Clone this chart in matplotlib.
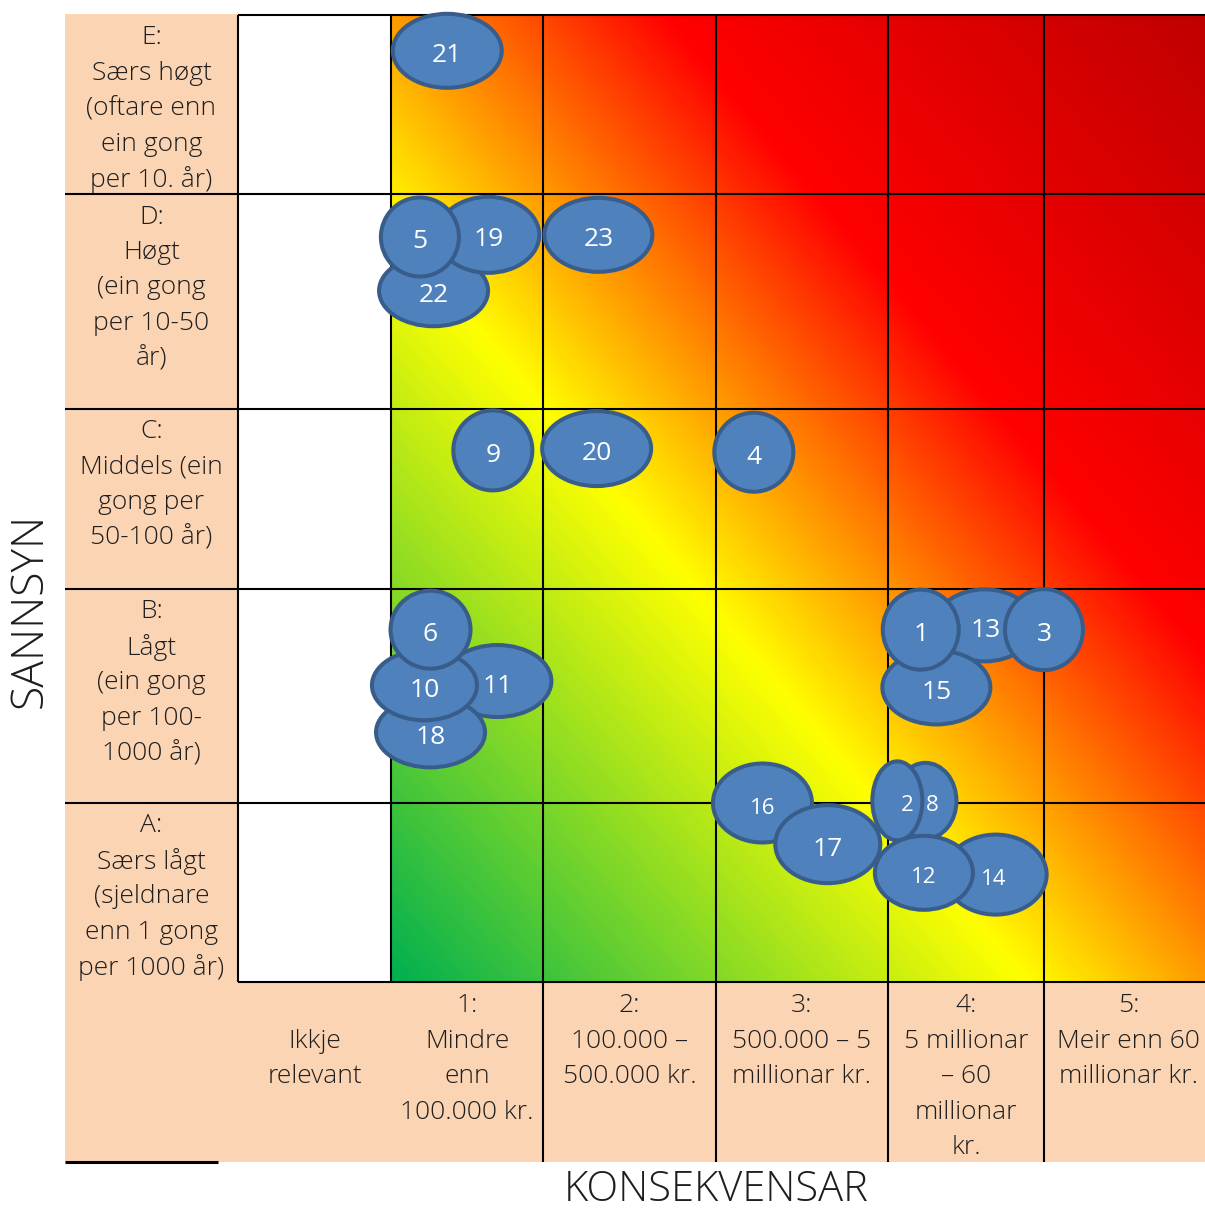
import matplotlib.pyplot as plt
import numpy as np
from matplotlib.patches import Ellipse, Rectangle
from matplotlib.colors import LinearSegmentedColormap

# --- data -------------------------------------------------------------
# probability classes, bottom (A) to top (E)
prob_labels = [
    "A:\nSærs lågt\n(sjeldnare\nenn 1 gong\nper 1000 år)",
    "B:\nLågt\n(ein gong\nper 100-\n1000 år)",
    "C:\nMiddels (ein\ngong per\n50-100 år)",
    "D:\nHøgt\n(ein gong\nper 10-50\når)",
    "E:\nSærs høgt\n(oftare enn\nein gong\nper 10. år)",
]
# consequence classes, left to right (0 = not relevant)
cons_labels = [
    "\nIkkje\nrelevant",
    "1:\nMindre\nenn\n100.000 kr.",
    "2:\n100.000 –\n500.000 kr.",
    "3:\n500.000 – 5\nmillionar kr.",
    "4:\n5 millionar\n– 60\nmillionar\nkr.",
    "5:\nMeir enn 60\nmillionar kr.",
]
x_title = "KONSEKVENSAR"
y_title = "SANNSYN"

# risk items, in drawing order; position in cell units
# (consequence class k spans k-0.5..k+0.5, probability A=1 .. E=5)
risk_ids  = [22, 19, 5, 23, 21, 9, 20, 4, 11, 18, 10, 6,
             13, 15, 3, 1, 16, 17, 8, 2, 14, 12]
risk_cons = [0.78, 1.14, 0.69, 1.82, 0.87, 1.17, 1.81, 2.72, 1.20, 0.76, 0.72, 0.76,
             4.12, 3.81, 4.50, 3.71, 2.77, 3.15, 3.74, 3.56, 4.19, 3.73]
risk_prob = [4.05, 4.31, 4.30, 4.31, 5.30, 3.27, 3.28, 3.26, 2.07, 1.83, 2.05, 2.31,
             2.33, 2.04, 2.31, 2.31, 1.50, 1.27, 1.51, 1.51, 1.10, 1.11]

# --- layout / style ---------------------------------------------------
W, H = 1205, 1210
col_edges = [238, 391, 543, 716, 888, 1044, 1205]   # px, left to right
row_edges = [982, 803, 589, 409, 194, 15]           # px, bottom to top
label_left = 65
label_bottom = 1162
beige = "#FBD4B4"
text_col = "#1e1e1e"
fill_col = "#4F81BD"
edge_col = "#385D8A"
font = ["Open Sans", "DejaVu Sans"]

bubble_size = {  # outer width, height in px
    22: (113, 75), 19: (106, 80), 5: (82, 83), 23: (112, 78), 21: (113, 78),
    9: (83, 84), 20: (113, 79), 4: (83, 83), 11: (112, 76), 18: (113, 74),
    10: (109, 74), 6: (84, 82), 13: (104, 76), 15: (112, 78), 3: (82, 85),
    1: (80, 84), 16: (103, 83), 17: (109, 82), 8: (66, 80), 2: (54, 83),
    14: (106, 84), 12: (102, 78),
}
label_dx = {2: 10, 8: 7, 14: -2, 13: 1}
small_ids = {2, 8, 12, 14, 16}


def cx(c):
    return np.interp(c, np.arange(-0.5, 6), col_edges)


def cy(p):
    return np.interp(p, np.arange(0.5, 6), row_edges)


fig = plt.figure(figsize=(W / 100, H / 100), dpi=100)
ax = fig.add_axes([0, 0, 1, 1])
ax.set_xlim(0, W)
ax.set_ylim(H, 0)
ax.axis("off")

# beige label areas
ax.add_patch(Rectangle((label_left, 14), col_edges[0] - label_left, row_edges[0] - 14,
                       fc=beige, ec="none", zorder=0))
ax.add_patch(Rectangle((label_left, row_edges[0]), W - label_left, label_bottom - row_edges[0],
                       fc=beige, ec="none", zorder=0))

# diagonal gradient over the risk area
cmap = LinearSegmentedColormap.from_list(
    "risk", [(0.0, "#00B050"), (0.39, "#FFFF00"), (0.67, "#FF0000"), (1.0, "#C00000")])
u = np.linspace(0, 1, 400)
v = np.linspace(1, 0, 400)
U, V = np.meshgrid(u, v)
ax.imshow((U + V) / 2, cmap=cmap, vmin=0, vmax=1, interpolation="bilinear",
          extent=(col_edges[1], col_edges[-1], row_edges[0], row_edges[-1]),
          aspect="auto", zorder=1)

# grid lines
lw = 1.5
ax.hlines(row_edges[-1], col_edges[0], W, color="black", lw=lw, zorder=3)
ax.hlines(row_edges[0], col_edges[0], W, color="black", lw=lw, zorder=3)
ax.hlines(row_edges[1:-1], label_left, W, color="black", lw=lw, zorder=3)
ax.vlines(col_edges[:2], row_edges[-1], row_edges[0], color="black", lw=lw, zorder=3)
ax.vlines(col_edges[2:-1], row_edges[-1], label_bottom, color="black", lw=lw, zorder=3)
ax.hlines(label_bottom, label_left, 218, color="black", lw=2.2, zorder=3)

# row labels
step = 35.4
fs = 19
for i, lab in enumerate(prob_labels):
    top = row_edges[i + 1]
    xc = (label_left + col_edges[0]) / 2
    for j, line in enumerate(lab.split("\n")):
        ax.text(xc, top + 23 + j * step, line, ha="center", va="center",
                fontsize=fs, family=font, weight="light", color=text_col, zorder=4)

# column labels
for k, lab in enumerate(cons_labels):
    xc = (col_edges[k] + col_edges[k + 1]) / 2
    if k == len(cons_labels) - 1:
        xc += 4
    for j, line in enumerate(lab.split("\n")):
        ax.text(xc, row_edges[0] + 24 + j * step, line, ha="center", va="center",
                fontsize=fs, family=font, weight="light", color=text_col, zorder=4)

ax.text(30, 610, y_title, rotation=90, ha="center", va="center",
        fontsize=32, family=font, weight="light", color=text_col)
ax.text(716, 1201, x_title, ha="center", va="baseline",
        fontsize=30, family=font, weight="light", color=text_col)

# risk bubbles
for z, (rid, c, p) in enumerate(zip(risk_ids, risk_cons, risk_prob)):
    w, h = bubble_size[rid]
    x, y = cx(c), cy(p)
    ax.add_patch(Ellipse((x, y), w - 4, h - 4, fc=fill_col, ec=edge_col,
                         lw=2.9, zorder=10 + 2 * z))
    ax.text(x + label_dx.get(rid, 0), y + 5, str(rid), ha="center", va="center",
            color="white", fontsize=16 if rid in small_ids else 19, family=font,
            zorder=11 + 2 * z)

fig.savefig("out.png", dpi=100)
